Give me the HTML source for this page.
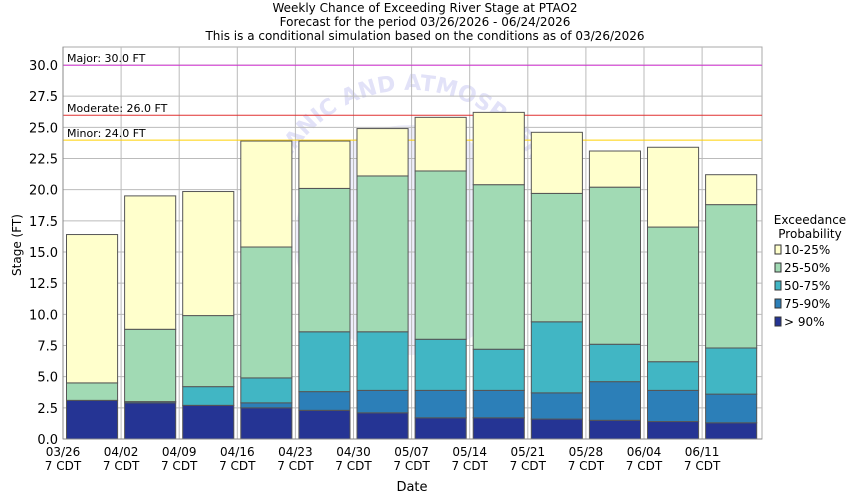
<!DOCTYPE html><html><head><meta charset="utf-8"><style>body{margin:0;background:#fff}svg{display:block}text{font-family:"DejaVu Sans","Liberation Sans",sans-serif;fill:#000}</style></head><body>
<svg width="850" height="500" viewBox="0 0 850 500">
<defs><path id="arc" d="M 270 230 A 140 140 0 0 1 550 230"/></defs>
<g font-size="12" text-anchor="middle">
<text x="425" y="12">Weekly Chance of Exceeding River Stage at PTAO2</text>
<text x="425" y="26">Forecast for the period 03/26/2026 - 06/24/2026</text>
<text x="425" y="40">This is a conditional simulation based on the conditions as of 03/26/2026</text>
</g>
<rect x="63" y="47" width="699" height="392" fill="#fff" stroke="#aaa"/>
<circle cx="410" cy="240" r="115" fill="#eeeefb"/>
<text font-size="22" font-weight="bold" style="fill:#e2e2f8"><textPath href="#arc" startOffset="8%">OCEANIC AND ATMOSPHERIC</textPath></text>
<g stroke="#bbb" stroke-width="1" id="grid"></g>
<line x1="63" x2="762" y1="65.3" y2="65.3" stroke="#d030d0"/>
<line x1="63" x2="762" y1="115.2" y2="115.2" stroke="#e03030"/>
<line x1="63" x2="762" y1="140.1" y2="140.1" stroke="#ffd000"/>
<g id="bars"></g>
<g font-size="11" fill="#333"><text x="67" y="62">Major: 30.0 FT</text><text x="67" y="112">Moderate: 26.0 FT</text><text x="67" y="137">Minor: 24.0 FT</text></g>
<line x1="63" x2="63" y1="47" y2="439" stroke="#888"/>
<line x1="63" x2="762" y1="439" y2="439" stroke="#888"/>
<g id="yt" font-size="13" text-anchor="end"></g>
<g id="xt" font-size="12" text-anchor="middle"></g>
<text x="412" y="491" font-size="13" text-anchor="middle">Date</text>
<text transform="translate(21,245) rotate(-90)" font-size="12" text-anchor="middle">Stage (FT)</text>
<g font-size="12"><text x="810" y="224" text-anchor="middle">Exceedance</text><text x="810" y="238" text-anchor="middle">Probability</text>
<rect x="775" y="245" width="6" height="9" fill="#ffffcc" stroke="#333"/><text x="784" y="254">10-25%</text>
<rect x="775" y="263" width="6" height="9" fill="#a1dab4" stroke="#333"/><text x="784" y="272">25-50%</text>
<rect x="775" y="281" width="6" height="9" fill="#41b6c4" stroke="#333"/><text x="784" y="290">50-75%</text>
<rect x="775" y="299" width="6" height="9" fill="#2c7fb8" stroke="#333"/><text x="784" y="308">75-90%</text>
<rect x="775" y="317" width="6" height="9" fill="#253494" stroke="#333"/><text x="784" y="326">&gt; 90%</text></g>
</svg>
<script>
const ns="http://www.w3.org/2000/svg";
function el(p,t,a,txt){const e=document.createElementNS(ns,t);for(const k in a)e.setAttribute(k,a[k]);if(txt)e.textContent=txt;document.getElementById(p).appendChild(e);return e;}
const Y=v=>439-v*12.467, X0=63, W=58.1;
for(let v=2.5;v<=32;v+=2.5){el("grid","line",{x1:63,x2:762,y1:Y(v),y2:Y(v)});}
for(let i=1;i<12;i++){el("grid","line",{x1:X0+i*W,x2:X0+i*W,y1:47,y2:439});}
for(let v=0;v<=30;v+=2.5){el("yt","text",{x:58,y:Y(v)+5},v.toFixed(1));}
const d=["03/26","04/02","04/09","04/16","04/23","04/30","05/07","05/14","05/21","05/28","06/04","06/11"];
d.forEach((s,i)=>{const x=X0+i*W;el("xt","text",{x:x,y:456},s);el("xt","text",{x:x,y:470},"7 CDT");});
const data=[[3.1,3.1,3.1,4.5,16.4],[2.9,3.0,3.0,8.8,19.5],[2.7,2.7,4.2,9.9,19.85],[2.5,2.9,4.9,15.4,23.9],[2.3,3.8,8.6,20.1,23.9],[2.1,3.9,8.6,21.1,24.9],[1.7,3.9,8.0,21.5,25.8],[1.7,3.9,7.2,20.4,26.2],[1.6,3.7,9.4,19.7,24.6],[1.5,4.6,7.6,20.2,23.1],[1.4,3.9,6.2,17.0,23.4],[1.3,3.6,7.3,18.8,21.2]];
const c=["#253494","#2c7fb8","#41b6c4","#a1dab4","#ffffcc"];
data.forEach((b,i)=>{const x=X0+i*W+3.5,w=W-7;let prev=0;b.forEach((v,j)=>{if(v>prev){el("bars","rect",{x:x,y:Y(v),width:w,height:Y(prev)-Y(v),fill:c[j],stroke:"#555","stroke-width":1});}prev=Math.max(prev,v);});});
</script>
</body></html>
